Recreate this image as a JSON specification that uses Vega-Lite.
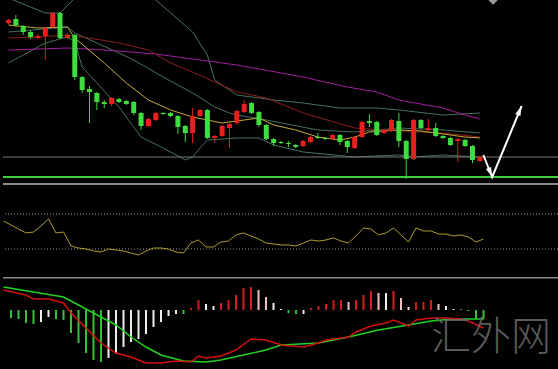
{
  "$schema": "https://vega.github.io/schema/vega-lite/v6.json",
  "background": "#000000",
  "padding": 0,
  "spacing": 0,
  "config": {"view": {"stroke": null}, "concat": {"spacing": 0}},
  "resolve": {"scale": {"color": "independent", "strokeWidth": "independent"}},
  "datasets": {
    "bars": [
      {"i":-1,"o":162,"h":166,"l":161,"c":165,"rsi":62.0,"hist":null,"hc":"g"},
      {"i":0,"o":166,"h":170,"l":158,"c":160,"rsi":57.4,"hist":-0.8,"hc":"g"},
      {"i":1,"o":159,"h":160,"l":150,"c":153,"rsi":52.9,"hist":-0.9,"hc":"g"},
      {"i":2,"o":153,"h":155,"l":146,"c":148,"rsi":48.3,"hist":-1.3,"hc":"g"},
      {"i":3,"o":147,"h":151,"l":146,"c":149,"rsi":49.4,"hist":-1.4,"hc":"g"},
      {"i":4,"o":149,"h":158,"l":125,"c":157,"rsi":56.3,"hist":-1.2,"hc":"w"},
      {"i":5,"o":158,"h":173,"l":157,"c":172,"rsi":64.3,"hist":-0.7,"hc":"w"},
      {"i":6,"o":172,"h":173,"l":146,"c":147,"rsi":48.3,"hist":-0.9,"hc":"g"},
      {"i":7,"o":147,"h":152,"l":146,"c":150,"rsi":49.4,"hist":-1.0,"hc":"g"},
      {"i":8,"o":150,"h":151,"l":105,"c":108,"rsi":33.4,"hist":-2.3,"hc":"g"},
      {"i":9,"o":108,"h":109,"l":92,"c":95,"rsi":31.1,"hist":-3.3,"hc":"g"},
      {"i":10,"o":96,"h":99,"l":62,"c":93,"rsi":30.0,"hist":-4.3,"hc":"g"},
      {"i":11,"o":92,"h":93,"l":75,"c":83,"rsi":27.7,"hist":-5.0,"hc":"g"},
      {"i":12,"o":83,"h":85,"l":77,"c":81,"rsi":26.6,"hist":-5.2,"hc":"g"},
      {"i":13,"o":81,"h":88,"l":79,"c":87,"rsi":30.0,"hist":-4.8,"hc":"w"},
      {"i":14,"o":86,"h":87,"l":82,"c":83,"rsi":28.9,"hist":-4.4,"hc":"w"},
      {"i":15,"o":84,"h":85,"l":80,"c":81,"rsi":27.7,"hist":-3.7,"hc":"w"},
      {"i":16,"o":83,"h":84,"l":70,"c":72,"rsi":25.4,"hist":-3.2,"hc":"w"},
      {"i":17,"o":72,"h":73,"l":55,"c":59,"rsi":23.1,"hist":-2.9,"hc":"w"},
      {"i":18,"o":59,"h":67,"l":58,"c":66,"rsi":27.7,"hist":-2.4,"hc":"w"},
      {"i":19,"o":65,"h":73,"l":64,"c":72,"rsi":31.1,"hist":-1.7,"hc":"w"},
      {"i":20,"o":72,"h":73,"l":70,"c":71,"rsi":31.1,"hist":-1.2,"hc":"w"},
      {"i":21,"o":72,"h":73,"l":68,"c":69,"rsi":30.0,"hist":-0.6,"hc":"w"},
      {"i":22,"o":69,"h":70,"l":51,"c":58,"rsi":26.6,"hist":-0.4,"hc":"w"},
      {"i":23,"o":59,"h":60,"l":43,"c":52,"rsi":25.4,"hist":-0.4,"hc":"g"},
      {"i":24,"o":52,"h":77,"l":42,"c":69,"rsi":36.9,"hist":0.2,"hc":"r"},
      {"i":25,"o":69,"h":76,"l":68,"c":75,"rsi":40.3,"hist":1.0,"hc":"r"},
      {"i":26,"o":75,"h":76,"l":46,"c":47,"rsi":32.3,"hist":0.6,"hc":"w"},
      {"i":27,"o":47,"h":50,"l":42,"c":49,"rsi":32.3,"hist":0.4,"hc":"w"},
      {"i":28,"o":49,"h":60,"l":48,"c":59,"rsi":38.0,"hist":0.7,"hc":"r"},
      {"i":29,"o":57,"h":62,"l":37,"c":61,"rsi":39.1,"hist":1.0,"hc":"r"},
      {"i":30,"o":62,"h":75,"l":60,"c":74,"rsi":46.0,"hist":1.5,"hc":"r"},
      {"i":31,"o":73,"h":85,"l":72,"c":81,"rsi":48.3,"hist":2.2,"hc":"r"},
      {"i":32,"o":82,"h":83,"l":71,"c":72,"rsi":44.9,"hist":2.3,"hc":"r"},
      {"i":33,"o":73,"h":74,"l":58,"c":60,"rsi":41.4,"hist":2.0,"hc":"p"},
      {"i":34,"o":60,"h":61,"l":45,"c":46,"rsi":36.9,"hist":1.3,"hc":"p"},
      {"i":35,"o":46,"h":47,"l":39,"c":42,"rsi":35.7,"hist":0.7,"hc":"w"},
      {"i":36,"o":43,"h":44,"l":41,"c":42,"rsi":34.6,"hist":0.1,"hc":"w"},
      {"i":37,"o":42,"h":44,"l":38,"c":41,"rsi":34.6,"hist":-0.3,"hc":"g"},
      {"i":38,"o":40,"h":41,"l":37,"c":38,"rsi":33.4,"hist":-0.4,"hc":"g"},
      {"i":39,"o":39,"h":45,"l":38,"c":44,"rsi":36.9,"hist":-0.4,"hc":"w"},
      {"i":40,"o":43,"h":49,"l":42,"c":48,"rsi":40.3,"hist":0.2,"hc":"r"},
      {"i":41,"o":48,"h":52,"l":46,"c":47,"rsi":39.1,"hist":0.4,"hc":"r"},
      {"i":42,"o":47,"h":48,"l":45,"c":46,"rsi":40.3,"hist":0.6,"hc":"r"},
      {"i":43,"o":46,"h":51,"l":45,"c":50,"rsi":42.6,"hist":1.0,"hc":"r"},
      {"i":44,"o":50,"h":51,"l":40,"c":43,"rsi":39.1,"hist":1.0,"hc":"r"},
      {"i":45,"o":44,"h":45,"l":32,"c":38,"rsi":36.9,"hist":0.8,"hc":"p"},
      {"i":46,"o":37,"h":49,"l":36,"c":48,"rsi":44.9,"hist":1.0,"hc":"r"},
      {"i":47,"o":48,"h":64,"l":47,"c":63,"rsi":54.0,"hist":1.5,"hc":"r"},
      {"i":48,"o":64,"h":71,"l":58,"c":62,"rsi":52.9,"hist":1.9,"hc":"r"},
      {"i":49,"o":63,"h":64,"l":49,"c":50,"rsi":46.0,"hist":1.7,"hc":"p"},
      {"i":50,"o":52,"h":56,"l":51,"c":55,"rsi":48.3,"hist":1.7,"hc":"w"},
      {"i":51,"o":54,"h":66,"l":53,"c":65,"rsi":54.0,"hist":1.9,"hc":"r"},
      {"i":52,"o":64,"h":72,"l":38,"c":44,"rsi":46.0,"hist":1.2,"hc":"p"},
      {"i":53,"o":44,"h":45,"l":6,"c":26,"rsi":38.0,"hist":0.3,"hc":"w"},
      {"i":54,"o":26,"h":66,"l":25,"c":65,"rsi":54.0,"hist":0.8,"hc":"r"},
      {"i":55,"o":65,"h":66,"l":56,"c":57,"rsi":50.6,"hist":0.8,"hc":"r"},
      {"i":56,"o":55,"h":66,"l":54,"c":57,"rsi":50.6,"hist":1.0,"hc":"r"},
      {"i":57,"o":57,"h":62,"l":48,"c":49,"rsi":47.1,"hist":0.6,"hc":"p"},
      {"i":58,"o":49,"h":50,"l":46,"c":47,"rsi":47.1,"hist":0.4,"hc":"w"},
      {"i":59,"o":47,"h":48,"l":39,"c":40,"rsi":44.9,"hist":0.1,"hc":"w"},
      {"i":60,"o":44,"h":47,"l":23,"c":46,"rsi":46.0,"hist":0.05,"hc":"w"},
      {"i":61,"o":45,"h":46,"l":38,"c":39,"rsi":43.7,"hist":-0.1,"hc":"g"},
      {"i":62,"o":39,"h":40,"l":22,"c":25,"rsi":38.0,"hist":-0.9,"hc":"g"},
      {"i":63,"o":24,"h":29,"l":23,"c":28,"rsi":41.4,"hist":-0.9,"hc":"g"}
    ],
    "pl": [
      {"s":"upper","i":-1,"v":187},{"s":"upper","i":4,"v":172},{"s":"upper","i":6,"v":172},{"s":"upper","i":8,"v":187},{"s":"upper","i":14,"v":215},{"s":"upper","i":19,"v":185},{"s":"upper","i":24,"v":153},{"s":"upper","i":26,"v":130},{"s":"upper","i":27,"v":105},{"s":"upper","i":30,"v":90},{"s":"upper","i":35,"v":85},{"s":"upper","i":39,"v":82},{"s":"upper","i":44,"v":77},{"s":"upper","i":49,"v":77},{"s":"upper","i":52,"v":75},{"s":"upper","i":58,"v":70},{"s":"upper","i":63,"v":72},
      {"s":"middle","i":-1,"v":153},{"s":"middle","i":7,"v":158},{"s":"middle","i":8,"v":152},{"s":"middle","i":14,"v":132},{"s":"middle","i":16,"v":125},{"s":"middle","i":20,"v":108},{"s":"middle","i":24,"v":92},{"s":"middle","i":27,"v":78},{"s":"middle","i":29,"v":72},{"s":"middle","i":30,"v":70},{"s":"middle","i":34,"v":65},{"s":"middle","i":41,"v":55},{"s":"middle","i":46,"v":53},{"s":"middle","i":52,"v":57},{"s":"middle","i":58,"v":55},{"s":"middle","i":63,"v":52},
      {"s":"lower","i":-1,"v":122},{"s":"lower","i":4,"v":142},{"s":"lower","i":7,"v":148},{"s":"lower","i":8,"v":143},{"s":"lower","i":9,"v":118},{"s":"lower","i":14,"v":78},{"s":"lower","i":17,"v":48},{"s":"lower","i":20,"v":37},{"s":"lower","i":23,"v":25},{"s":"lower","i":24,"v":28},{"s":"lower","i":25,"v":37},{"s":"lower","i":26,"v":45},{"s":"lower","i":30,"v":47},{"s":"lower","i":33,"v":47},{"s":"lower","i":35,"v":40},{"s":"lower","i":39,"v":33},{"s":"lower","i":46,"v":28},{"s":"lower","i":52,"v":30},{"s":"lower","i":54,"v":28},{"s":"lower","i":58,"v":30},{"s":"lower","i":63,"v":28},
      {"s":"long","i":-1,"v":135},{"s":"long","i":7,"v":137},{"s":"long","i":12,"v":135},{"s":"long","i":19,"v":131},{"s":"long","i":24,"v":126},{"s":"long","i":30,"v":120},{"s":"long","i":39,"v":108},{"s":"long","i":45,"v":98},{"s":"long","i":49,"v":93},{"s":"long","i":52,"v":85},{"s":"long","i":58,"v":77},{"s":"long","i":61,"v":70},{"s":"long","i":63,"v":66},
      {"s":"mid","i":-1,"v":147},{"s":"mid","i":3,"v":148},{"s":"mid","i":7,"v":150},{"s":"mid","i":10,"v":147},{"s":"mid","i":14,"v":142},{"s":"mid","i":18,"v":135},{"s":"mid","i":21,"v":122},{"s":"mid","i":24,"v":113},{"s":"mid","i":30,"v":93},{"s":"mid","i":34,"v":87},{"s":"mid","i":39,"v":72},{"s":"mid","i":46,"v":57},{"s":"mid","i":50,"v":55},{"s":"mid","i":58,"v":52},{"s":"mid","i":63,"v":48},
      {"s":"short","i":-1,"v":160},{"s":"short","i":3,"v":157},{"s":"short","i":7,"v":158},{"s":"short","i":8,"v":147},{"s":"short","i":12,"v":122},{"s":"short","i":15,"v":102},{"s":"short","i":18,"v":85},{"s":"short","i":21,"v":75},{"s":"short","i":24,"v":68},{"s":"short","i":28,"v":62},{"s":"short","i":31,"v":65},{"s":"short","i":33,"v":67},{"s":"short","i":35,"v":60},{"s":"short","i":38,"v":55},{"s":"short","i":41,"v":48},{"s":"short","i":44,"v":45},{"s":"short","i":46,"v":48},{"s":"short","i":48,"v":53},{"s":"short","i":52,"v":55},{"s":"short","i":55,"v":54},{"s":"short","i":58,"v":51},{"s":"short","i":61,"v":48},{"s":"short","i":63,"v":47}
    ],
    "levels": [{"name":"resistance","v":28},{"name":"support","v":8}],
    "arrow": [{"seq":0,"x":63.47,"y":30},{"seq":1,"x":64.67,"y":8},{"seq":2,"x":68.67,"y":79}],
    "heads": [{"x":64.67,"y":8,"a":158},{"x":68.67,"y":79,"a":23}],
    "ml": [
      {"s":"signal","i":-1,"v":2.3},{"s":"signal","i":3,"v":1.8},{"s":"signal","i":7,"v":1.3},{"s":"signal","i":9,"v":0.5},{"s":"signal","i":11,"v":-0.3},{"s":"signal","i":14,"v":-1.5},{"s":"signal","i":16,"v":-2.7},{"s":"signal","i":18,"v":-3.7},{"s":"signal","i":20,"v":-4.5},{"s":"signal","i":23,"v":-5.1},{"s":"signal","i":26,"v":-5.2},{"s":"signal","i":28,"v":-5.0},{"s":"signal","i":31,"v":-4.5},{"s":"signal","i":34,"v":-4.0},{"s":"signal","i":36,"v":-3.5},{"s":"signal","i":41,"v":-3.3},{"s":"signal","i":45,"v":-2.7},{"s":"signal","i":49,"v":-2.0},{"s":"signal","i":53,"v":-1.5},{"s":"signal","i":56,"v":-1.1},{"s":"signal","i":59,"v":-0.9},{"s":"signal","i":63,"v":-0.9},
      {"s":"macd","i":-1,"v":2.0},{"s":"macd","i":2,"v":1.5},{"s":"macd","i":3,"v":1.1},{"s":"macd","i":5,"v":1.1},{"s":"macd","i":7,"v":0.7},{"s":"macd","i":8,"v":-0.3},{"s":"macd","i":10,"v":-1.8},{"s":"macd","i":12,"v":-3.3},{"s":"macd","i":14,"v":-4.3},{"s":"macd","i":16,"v":-4.7},{"s":"macd","i":18,"v":-5.3},{"s":"macd","i":20,"v":-5.3},{"s":"macd","i":22,"v":-5.1},{"s":"macd","i":24,"v":-5.2},{"s":"macd","i":25,"v":-4.6},{"s":"macd","i":26,"v":-4.8},{"s":"macd","i":28,"v":-4.6},{"s":"macd","i":30,"v":-4.0},{"s":"macd","i":32,"v":-2.9},{"s":"macd","i":34,"v":-3.0},{"s":"macd","i":36,"v":-3.5},{"s":"macd","i":39,"v":-3.7},{"s":"macd","i":41,"v":-3.3},{"s":"macd","i":42,"v":-3.0},{"s":"macd","i":45,"v":-2.7},{"s":"macd","i":46,"v":-2.2},{"s":"macd","i":48,"v":-1.6},{"s":"macd","i":50,"v":-1.3},{"s":"macd","i":51,"v":-1.0},{"s":"macd","i":53,"v":-1.6},{"s":"macd","i":54,"v":-1.0},{"s":"macd","i":56,"v":-0.8},{"s":"macd","i":58,"v":-0.8},{"s":"macd","i":60,"v":-0.9},{"s":"macd","i":61,"v":-1.1},{"s":"macd","i":63,"v":-1.8}
    ],
    "rsilevels": [{"v":70},{"v":30}]
  },
  "vconcat": [
    {
      "width": 558, "height": 185,
      "resolve": {"scale": {"color": "independent", "strokeWidth": "independent"}},
      "layer": [
        {"data": {"name": "pl"}, "mark": {"type": "line", "clip": true, "strokeWidth": 1},
         "encoding": {
           "x": {"field": "i", "type": "quantitative", "scale": {"domain": [-1.0667, 73.3333], "nice": false, "zero": false}, "axis": null},
           "y": {"field": "v", "type": "quantitative", "scale": {"domain": [0, 185], "nice": false, "zero": false}, "axis": null},
           "color": {"field": "s", "type": "nominal", "legend": null, "scale": {"domain": ["upper","middle","lower","long","mid","short"], "range": ["#46705f","#46705f","#46705f","#a21fa2","#8e1e1e","#c4ac34"]}},
           "order": {"field": "i", "type": "quantitative"}
         }},
        {"data": {"name": "levels"}, "mark": {"type": "rule"},
         "encoding": {
           "y": {"field": "v", "type": "quantitative", "scale": {"domain": [0, 185], "nice": false, "zero": false}, "axis": null},
           "color": {"field": "name", "type": "nominal", "legend": null, "scale": {"domain": ["resistance","support"], "range": ["#7a7a7a","#3ccc3c"]}},
           "strokeWidth": {"field": "name", "type": "nominal", "legend": null, "scale": {"domain": ["resistance","support"], "range": [1, 2]}}
         }},
        {"data": {"name": "bars"}, "mark": {"type": "rule", "strokeWidth": 1},
         "encoding": {
           "x": {"field": "i", "type": "quantitative", "scale": {"domain": [-1.0667, 73.3333], "nice": false, "zero": false}, "axis": null},
           "y": {"field": "l", "type": "quantitative", "scale": {"domain": [0, 185], "nice": false, "zero": false}, "axis": null},
           "y2": {"field": "h"},
           "color": {"condition": {"test": "datum.c > datum.o", "value": "#e01e1e"}, "value": "#3ad83a"}
         }},
        {"data": {"name": "bars"}, "mark": {"type": "bar", "width": 5},
         "encoding": {
           "x": {"field": "i", "type": "quantitative", "scale": {"domain": [-1.0667, 73.3333], "nice": false, "zero": false}, "axis": null},
           "y": {"field": "o", "type": "quantitative", "scale": {"domain": [0, 185], "nice": false, "zero": false}, "axis": null},
           "y2": {"field": "c"},
           "color": {"condition": {"test": "datum.c > datum.o", "value": "#e81f1f"}, "value": "#3fdc3f"}
         }},
        {"data": {"name": "arrow"}, "mark": {"type": "line", "color": "#ffffff", "strokeWidth": 2},
         "encoding": {
           "x": {"field": "x", "type": "quantitative", "scale": {"domain": [-1.0667, 73.3333], "nice": false, "zero": false}, "axis": null},
           "y": {"field": "y", "type": "quantitative", "scale": {"domain": [0, 185], "nice": false, "zero": false}, "axis": null},
           "order": {"field": "seq", "type": "quantitative"}
         }},
        {"data": {"name": "heads"}, "mark": {"type": "point", "filled": true, "opacity": 1, "color": "#ffffff", "shape": "M0,0L0.45,1.6L-0.45,1.6Z", "size": 150},
         "encoding": {
           "x": {"field": "x", "type": "quantitative", "scale": {"domain": [-1.0667, 73.3333], "nice": false, "zero": false}, "axis": null},
           "y": {"field": "y", "type": "quantitative", "scale": {"domain": [0, 185], "nice": false, "zero": false}, "axis": null},
           "angle": {"field": "a", "type": "quantitative", "scale": null}
         }},
        {"data": {"values": [{}]}, "mark": {"type": "point", "filled": true, "opacity": 1, "color": "#9a9a9a", "shape": "diamond", "size": 90, "clip": true},
         "encoding": {
           "x": {"datum": 64.8, "type": "quantitative", "scale": {"domain": [-1.0667, 73.3333], "nice": false, "zero": false}, "axis": null},
           "y": {"datum": 185, "type": "quantitative", "scale": {"domain": [0, 185], "nice": false, "zero": false}, "axis": null}
         }},
        {"data": {"values": [{}]}, "mark": {"type": "rule", "color": "#8c8c8c", "strokeWidth": 2},
         "encoding": {
           "y": {"datum": 1, "type": "quantitative", "scale": {"domain": [0, 185], "nice": false, "zero": false}, "axis": null}
         }}
      ]
    },
    {
      "width": 558, "height": 92,
      "layer": [
        {"data": {"name": "rsilevels"}, "mark": {"type": "rule", "color": "#9a9a9a", "strokeWidth": 1, "strokeDash": [1, 2]},
         "encoding": {
           "y": {"field": "v", "type": "quantitative", "scale": {"domain": [-2, 103.1], "nice": false, "zero": false}, "axis": null}
         }},
        {"data": {"name": "bars"}, "mark": {"type": "line", "color": "#aa9d2e", "strokeWidth": 1},
         "encoding": {
           "x": {"field": "i", "type": "quantitative", "scale": {"domain": [-1.0667, 73.3333], "nice": false, "zero": false}, "axis": null},
           "y": {"field": "rsi", "type": "quantitative", "scale": {"domain": [-2, 103.1], "nice": false, "zero": false}, "axis": null}
         }}
      ]
    },
    {
      "width": 558, "height": 92,
      "resolve": {"scale": {"color": "independent"}},
      "layer": [
        {"data": {"name": "bars"}, "mark": {"type": "rule", "strokeWidth": 2},
         "encoding": {
           "x": {"field": "i", "type": "quantitative", "scale": {"domain": [-1.0667, 73.3333], "nice": false, "zero": false}, "axis": null},
           "y": {"field": "hist", "type": "quantitative", "scale": {"domain": [-5.9, 3.3], "nice": false, "zero": false}, "axis": null},
           "y2": {"datum": 0},
           "color": {"field": "hc", "type": "nominal", "legend": null, "scale": {"domain": ["g","w","r","p"], "range": ["#36c236","#ececec","#d01e1e","#ecc0c0"]}}
         }},
        {"data": {"name": "ml"}, "mark": {"type": "line", "strokeWidth": 1.5},
         "encoding": {
           "x": {"field": "i", "type": "quantitative", "scale": {"domain": [-1.0667, 73.3333], "nice": false, "zero": false}, "axis": null},
           "y": {"field": "v", "type": "quantitative", "scale": {"domain": [-5.9, 3.3], "nice": false, "zero": false}, "axis": null},
           "color": {"field": "s", "type": "nominal", "legend": null, "scale": {"domain": ["signal","macd"], "range": ["#22d022","#d01212"]}},
           "order": {"field": "i", "type": "quantitative"}
         }},
        {"data": {"values": [{}]}, "mark": {"type": "rule", "color": "#8c8c8c", "strokeWidth": 2, "clip": true},
         "encoding": {
           "y": {"datum": 3.25, "type": "quantitative", "scale": {"domain": [-5.9, 3.3], "nice": false, "zero": false}, "axis": null}
         }},
        {"data": {"values": [{}]}, "mark": {"type": "text", "text": "汇外网", "font": "Noto Sans CJK SC", "fontSize": 40, "fontWeight": 300, "color": "#6a6a6a", "opacity": 0.85, "align": "center", "baseline": "middle"},
         "encoding": {
           "x": {"datum": 64, "type": "quantitative", "scale": {"domain": [-1.0667, 73.3333], "nice": false, "zero": false}, "axis": null},
           "y": {"datum": -2.8, "type": "quantitative", "scale": {"domain": [-5.9, 3.3], "nice": false, "zero": false}, "axis": null}
         }}
      ]
    }
  ]
}
